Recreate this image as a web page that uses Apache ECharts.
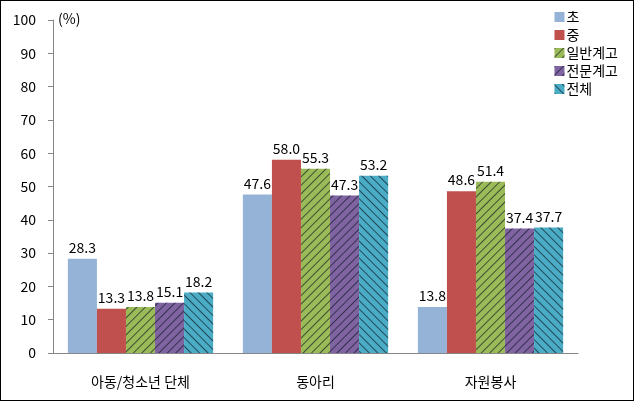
<!DOCTYPE html>
<html><head><meta charset="utf-8">
<script src="https://cdn.jsdelivr.net/npm/echarts@6/dist/echarts.min.js"></script>
<style>html,body{margin:0;padding:0;background:#fff}#c{width:634px;height:401px;box-sizing:border-box;border:1px solid #000}</style>
</head><body><div id="c"></div>
<script>
const categories = ['아동/청소년 단체', '동아리', '자원봉사'];
const seriesNames = ['초', '중', '일반계고', '전문계고', '전체'];
const s1 = [28.3, 47.6, 13.8];
const s2 = [13.3, 58.0, 48.6];
const s3 = [13.8, 55.3, 51.4];
const s4 = [15.1, 47.3, 37.4];
const s5 = [18.2, 53.2, 37.7];
const yTicks = [0, 10, 20, 30, 40, 50, 60, 70, 80, 90, 100];

const colors = ['#95B3D7', '#C0504D', '#9BBB59', '#8064A2', '#4BACC6'];
const font = '"Noto Sans CJK KR", "Noto Sans", sans-serif';
function decal(rot) {
  return { symbol: 'rect', symbolSize: 1, color: 'rgba(10,20,30,0.65)', dashArrayX: [1, 0], dashArrayY: [1, 5], rotation: rot };
}
const decals = [null, null, decal(-Math.PI / 4), decal(-Math.PI / 4), decal(Math.PI / 4)];
const data = [s1, s2, s3, s4, s5];
const chart = echarts.init(document.getElementById('c'));
chart.setOption({
  animation: false,
  aria: { enabled: true, decal: { show: true } },
  textStyle: { fontFamily: font },
  grid: { left: 52, right: 55, top: 19, bottom: 47 },
  legend: {
    orient: 'vertical', right: 10, top: 4, itemWidth: 10, itemHeight: 10, itemGap: 4,
    icon: 'rect', textStyle: { fontSize: 14, color: '#000', fontFamily: font, padding: [0, 0, 0, -3] },
    data: seriesNames
  },
  xAxis: {
    type: 'category', data: categories,
    axisLine: { lineStyle: { color: '#868686' } }, axisTick: { show: false },
    axisLabel: { color: '#000', fontSize: 14, margin: 22, fontFamily: font }
  },
  yAxis: {
    type: 'value', min: 0, max: 100, interval: 10,
    axisLine: { show: true, lineStyle: { color: '#868686' } },
    axisTick: { show: true, inside: false, length: 5, lineStyle: { color: '#868686' } },
    splitLine: { show: false },
    axisLabel: { color: '#000', fontSize: 14, margin: 17, fontFamily: font,
      formatter: v => yTicks.includes(v) ? String(v) : '' }
  },
  graphic: [{ type: 'text', left: 57, top: 11, style: { text: '(%)', fontSize: 14, fill: '#000', fontFamily: font } }],
  series: data.map((d, i) => ({
    name: seriesNames[i], type: 'bar', data: d,
    barGap: '0%', barCategoryGap: '17%',
    itemStyle: { color: colors[i], decal: decals[i] || { symbol: 'none' } },
    label: { show: true, position: 'top', distance: 4, color: '#000', fontSize: 14, fontFamily: font,
      formatter: p => p.value.toFixed(1) }
  }))
});
</script></body></html>
